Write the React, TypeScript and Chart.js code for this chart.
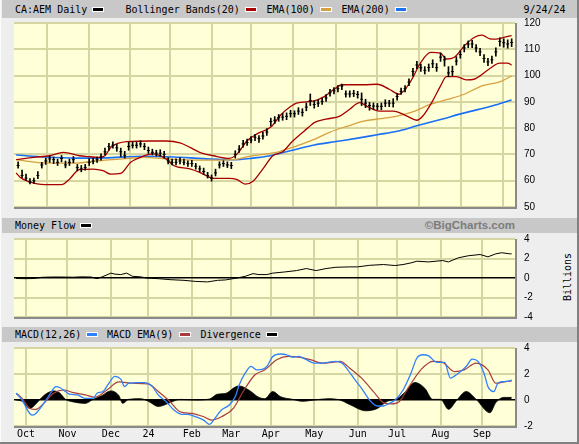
import React, { useEffect, useRef } from "react";
import { Chart, registerables } from "chart.js";
Chart.register(...registerables);

// ---------- categories (trading-session index, 0 = 2 Oct 2023) ----------
const monthTicks = [0, 21, 43, 62, 84, 104, 124, 146, 168, 188, 210, 231];
const monthLabels = ["Oct", "Nov", "Dec", "24", "Feb", "Mar", "Apr", "May", "Jun", "Jul", "Aug", "Sep"];
const mainYTicks = [50, 60, 70, 80, 90, 100, 110, 120];
const flowYTicks = [-4, -2, 0, 2, 4];
const macdYTicks = [-2, 0, 2, 4];

// ---------- price bars ----------
const priceDays = [
  -4, -2, 0, 2, 4, 6, 8, 10, 12, 14,
  16, 18, 20, 22, 24, 26, 28, 30, 32, 34,
  36, 38, 40, 42, 44, 46, 48, 50, 52, 54,
  56, 58, 60, 62, 64, 66, 68, 70, 72, 74,
  76, 78, 80, 82, 84, 86, 88, 90, 92, 94,
  96, 98, 100, 102, 104, 106, 108, 110, 112, 114,
  116, 118, 120, 122, 124, 126, 128, 130, 132, 134,
  136, 138, 140, 142, 144, 146, 148, 150, 152, 154,
  156, 158, 160, 162, 164, 166, 168, 170, 172, 174,
  176, 178, 180, 182, 184, 186, 188, 190, 192, 194,
  196, 198, 200, 202, 204, 206, 208, 210, 212, 214,
  216, 218, 220, 222, 224, 226, 228, 230, 232, 234,
  236, 238, 240, 242, 244, 246,
];
const priceClose = [
  65.8, 62, 61, 59.5, 60, 62, 66, 67.5, 68.3, 68,
  67, 68.5, 66, 67, 68, 65, 64.5, 65, 67, 67.5,
  68, 69, 71, 73, 73.5, 72.5, 71, 69.5, 73, 73.5,
  73.5, 74, 73, 71.5, 70.8, 70.5, 70.5, 70, 67.5, 67,
  67, 67.5, 67, 66.5, 66.5, 65.5, 64.5, 63.5, 62, 61,
  63, 66, 66.5, 66, 65.8, 70, 72, 74, 74.5, 75.5,
  76.5, 76, 77, 78.5, 82.5, 83, 84, 84.2, 84.5, 85.5,
  85.5, 86.5, 86, 88, 90.5, 89, 89.5, 90.2, 91.5, 93.5,
  94.2, 95, 96, 93, 93, 93.2, 92.8, 91, 89.5, 88.6,
  88.4, 88.3, 88.3, 89.5, 89.5, 89.5, 92, 94, 95, 97.5,
  101.5, 104, 103, 102, 103, 104.5, 103, 107, 106, 101,
  101.5, 105.5, 108, 110.5, 112, 112, 110.5, 109, 106.5, 105.2,
  106, 109, 113, 112.5, 112, 112.6,
];
const priceLow = [
  64.8, 61.2, 60, 58.8, 59, 60.8, 64.8, 66.2, 67, 66.5,
  65.8, 67.2, 64.9, 65.8, 66.8, 63.8, 63.4, 64, 65.8, 66.4,
  67, 67.8, 69.8, 71.6, 72.4, 71.2, 69.2, 68.6, 71.6, 72.4,
  72.4, 72.8, 71.8, 70.4, 69.8, 69.4, 69.4, 68.6, 66.4, 66,
  66, 66.4, 66, 65.4, 65.4, 64.4, 63.4, 62.4, 61, 59.8,
  61.8, 64.8, 65.4, 65, 64.6, 68.6, 70.8, 72.8, 73.4, 74.4,
  75.2, 74.6, 75.8, 77.2, 80.8, 81.8, 82.6, 83, 83.2, 84.2,
  84.2, 85.2, 84.6, 86.6, 88.6, 87.6, 88.2, 89, 90.2, 92.2,
  93, 93.8, 94.6, 91.8, 91.8, 92, 91.4, 88.6, 87.8, 86.8,
  87, 87, 87, 88.2, 88.2, 88, 90.6, 92.8, 93.8, 96.2,
  99.8, 102.6, 101.6, 100.6, 101.6, 103, 101.6, 105.4, 103.6, 99.6,
  100, 104, 106.6, 109, 110.6, 110.6, 109, 107.6, 105, 103.8,
  104.6, 107.4, 111.2, 110.8, 110.4, 111,
];
const priceHigh = [
  67.2, 64, 62.5, 60.8, 61, 63.5, 67, 68.6, 69.4, 69,
  68.2, 69.6, 67.5, 68.2, 69.2, 66.2, 65.8, 66.2, 68.4, 68.6,
  69, 70.2, 72.4, 74.2, 74.8, 73.8, 72.4, 71.2, 74.6, 74.8,
  74.6, 75.2, 74.2, 72.8, 72, 71.6, 71.8, 71.2, 68.8, 68.2,
  68.3, 68.8, 68.2, 67.6, 67.8, 66.6, 65.6, 64.8, 63.2, 62.2,
  64.4, 67.2, 67.6, 67.2, 67, 71.4, 73.4, 75.4, 75.8, 76.8,
  77.6, 77.2, 78.4, 79.8, 83.8, 84.4, 85.2, 85.6, 85.8, 86.8,
  86.6, 87.8, 87.4, 89.6, 93, 90.4, 90.8, 91.4, 92.8, 94.8,
  95.4, 96.2, 96.8, 94.2, 94.2, 94.4, 94, 93.4, 91, 89.8,
  89.6, 89.4, 89.6, 90.8, 90.6, 91.2, 93.2, 95.2, 96.2, 98.8,
  102.8, 105.4, 104.4, 103.4, 104.4, 106, 104.6, 108.6, 107.4, 103.4,
  103.6, 107.2, 109.4, 111.8, 113.2, 113.4, 111.8, 110.4, 108, 106.6,
  107.4, 110.6, 114.4, 114, 113.6, 114,
];

// ---------- overlays ----------
const bbUpperDays = [-5, 4, 12, 19, 27, 31, 37, 40, 43, 51, 63, 71, 78, 83, 88, 95, 103, 107, 112, 117, 124, 129, 134, 137, 146, 151, 156, 160, 171, 178, 184, 189, 195, 200, 205, 210, 213, 217, 222, 227, 231, 235, 238, 242, 246];
const bbUpperVals = [68, 68.9, 69.5, 70.8, 69.5, 69.2, 68.9, 69.5, 72.7, 74.9, 75.1, 75.1, 74.4, 72.7, 70.8, 69.5, 68.5, 70.2, 75.2, 77.8, 80.4, 85, 88.2, 89.5, 90.4, 92, 94.8, 96.5, 96.5, 96.7, 94.8, 92.9, 98, 105, 108.8, 108.5, 106.3, 107, 111.3, 114.5, 115.4, 114, 113.9, 114.5, 115.2];
const bbLowerDays = [-5, -3, 4, 12, 18, 22, 27, 34, 39, 43, 48, 53, 58, 64, 71, 75, 83, 88, 95, 103, 107, 111, 115, 120, 125, 130, 135, 143, 146, 152, 159, 164, 169, 173, 179, 186, 193, 198, 201, 206, 210, 213, 218, 223, 227, 230, 235, 240, 244, 246];
const bbLowerVals = [63, 61.3, 59.1, 58.5, 58.5, 60.6, 64.2, 64.4, 63.8, 62.5, 62.8, 67, 68.9, 70.2, 68.3, 65.7, 64.5, 63.2, 60.9, 60.9, 60.4, 58.7, 59.8, 64.5, 69.5, 71, 75, 80.2, 82.1, 83.4, 84.6, 87.2, 89.7, 88.2, 86.5, 86.5, 84.6, 83, 84.6, 90.4, 96.1, 99.6, 99.6, 98.4, 98.6, 99.9, 102.7, 104.7, 104.7, 104];
const ema100Days = [-5, 8, 25, 37, 52, 60, 71, 88, 105, 113, 122, 128, 137, 146, 154, 163, 171, 180, 188, 197, 205, 214, 222, 231, 240, 246];
const ema100Vals = [68, 66.8, 66.7, 67.6, 68.5, 68.9, 68.3, 67.8, 68, 69.3, 70.2, 71, 73.2, 75.7, 78.5, 80.8, 82.7, 83.6, 84.6, 86.5, 89.1, 91, 92.9, 96.1, 97.6, 99.9];
const ema200Days = [-5, 10, 25, 40, 60, 75, 90, 105, 115, 122, 129, 137, 146, 157, 168, 178, 188, 198, 210, 222, 236, 246];
const ema200Vals = [69.8, 69.0, 68.6, 68.7, 69.3, 69.0, 68.4, 68.0, 68.6, 69.3, 70.5, 72.0, 73.6, 74.9, 76.2, 77.5, 78.8, 80.9, 83.3, 85.8, 88.4, 90.7];

// ---------- money flow (billions) ----------
const flowDays = [-5, 0, 4, 8, 13, 18, 24, 28, 33, 36, 39, 43, 45, 48, 51, 54, 58, 61, 67, 73, 80, 86, 92, 97, 101, 107, 111, 115, 118, 122, 125, 131, 137, 142, 147, 152, 157, 164, 168, 174, 181, 187, 191, 195, 198, 204, 211, 214, 219, 224, 230, 234, 238, 241, 245, 246];
const flowVals = [-0.05, -0.07, -0.05, 0.07, 0.1, 0.1, 0.08, 0.12, 0.1, -0.07, 0.15, 0.5, 0.4, 0.35, 0.5, 0.17, 0.12, 0, -0.07, -0.17, -0.24, -0.35, -0.4, -0.24, -0.2, 0, 0.17, 0.45, 0.35, 0.35, 0.5, 0.62, 0.76, 0.97, 0.76, 0.97, 1.1, 1.14, 1.14, 1.3, 1.38, 1.28, 1.38, 1.55, 1.72, 1.65, 1.79, 1.65, 2.07, 2.28, 2.41, 2.17, 2.48, 2.59, 2.48, 2.48];

// ---------- MACD ----------
const macdDays = [-5, -2, 3, 5, 9, 13, 15, 17, 20, 22, 26, 30, 34, 36, 39, 42, 45, 48, 50, 52, 56, 60, 64, 67, 71, 75, 79, 82, 86, 90, 93, 95, 99, 103, 106, 108, 111, 114, 117, 120, 122, 125, 129, 132, 135, 138, 142, 146, 150, 153, 157, 160, 163, 166, 170, 174, 178, 181, 184, 187, 191, 195, 198, 201, 204, 207, 209, 212, 215, 219, 223, 226, 229, 232, 234, 237, 239, 242, 245, 246];
const macdVals = [0.52, 0, -1.16, -1.03, -0.26, 0.65, 1.03, 0.96, 0.65, 0.46, 0.39, 0.13, 0.13, 0.52, 0.65, 1.29, 1.81, 1.6, 1.03, 1.29, 1.34, 1.34, 1.03, 0.39, -0.13, -0.77, -1.11, -1.11, -1.29, -1.55, -1.88, -1.55, -0.77, -0.39, 0.26, 1.16, 2.06, 2.58, 2.32, 2.37, 2.58, 3.35, 3.54, 3.48, 3.3, 3.35, 3.1, 2.84, 2.84, 2.9, 2.97, 2.84, 2.32, 1.68, 0.9, 0, -0.46, -0.46, -0.26, 0, 0.77, 2.06, 3.23, 3.48, 3.4, 2.97, 2.89, 2.89, 1.68, 2.06, 2.58, 3.15, 2.97, 2.06, 1.03, 0.65, 1.29, 1.42, 1.47, 1.55];
const signalDays = [-5, -2, 2, 5, 9, 14, 19, 24, 30, 35, 41, 47, 54, 62, 67, 73, 78, 84, 90, 94, 99, 105, 110, 116, 121, 127, 133, 138, 144, 150, 155, 159, 164, 170, 176, 181, 185, 189, 194, 200, 206, 211, 217, 222, 228, 234, 238, 243, 246];
const signalVals = [0.52, 0.13, -0.65, -0.72, -0.26, 0.52, 0.77, 0.57, 0.39, 0.21, 0.77, 1.39, 1.29, 1.24, 0.65, -0.13, -0.9, -1.03, -1.29, -1.55, -1.29, -0.65, 0.65, 1.94, 2.32, 3.1, 3.35, 3.3, 3.1, 2.84, 2.9, 2.97, 2.45, 1.68, 0.65, -0.2, -0.3, -0.13, 1.03, 2.32, 2.97, 2.9, 2.19, 2.32, 2.84, 2.32, 1.29, 1.42, 1.45];
const divDays = [-5, -2, 2, 5, 8, 11, 14, 17, 20, 24, 30, 34, 38, 43, 47, 49, 52, 58, 62, 67, 73, 78, 86, 93, 97, 101, 106, 108, 113, 118, 121, 125, 129, 135, 140, 146, 153, 159, 164, 172, 178, 183, 188, 192, 197, 202, 206, 210, 214, 218, 223, 228, 235, 238, 242, 246];
const divVals = [0, -0.1, -0.65, -0.3, 0.2, 0.55, 0.7, 0.55, 0.05, -0.15, -0.26, 0.05, 0.3, 0.7, 0.35, -0.26, 0.05, 0.1, -0.1, -0.5, -0.2, 0.05, 0, 0.08, 0.45, 0.5, 1.0, 1.08, 0.75, 0.2, 0.1, 0.65, 0.25, 0.05, -0.1, 0, 0.1, 0, -0.35, -0.83, -0.65, -0.1, 0.1, 0.6, 1.35, 0.9, 0.05, 0.05, -0.72, -0.05, 0.65, 0.05, -0.98, -0.2, 0.2, 0.2];

// ---------- styling ----------
const MONO = "'DejaVu Sans Mono', 'Liberation Mono', monospace";
const SANS = "'Liberation Sans', Arial, sans-serif";
const GRID = "#d6d6a2";
const PLOT_BG = "#ffffd8";
const BAND = "#c8c8c8";
const BG = "#eeeeee";
const C_BB = "#a80000";
const C_E100 = "#d6a040";
const C_E200 = "#1a70f5";
const C_MACD = "#2f80ff";
const C_SIG = "#a83c3c";
const XMIN = -6.08;
const XMAX = 247.7;

const pts = (days: number[], vals: number[]) => days.map((d, i) => ({ x: d, y: vals[i] }));

const plotBg = {
  id: "plotBg",
  beforeDraw(chart: any) {
    const { ctx, chartArea: a } = chart;
    ctx.save();
    ctx.fillStyle = PLOT_BG;
    ctx.fillRect(a.left, a.top, a.right - a.left, a.bottom - a.top);
    ctx.restore();
  },
  afterDraw(chart: any) {
    const { ctx, chartArea: a } = chart;
    ctx.save();
    ctx.strokeStyle = "#8a8a8a";
    ctx.lineWidth = 2;
    ctx.beginPath();
    ctx.moveTo(a.left, a.bottom + 1);
    ctx.lineTo(a.right + 1, a.bottom + 1);
    ctx.lineTo(a.right + 1, a.top);
    ctx.stroke();
    ctx.restore();
  },
};

function xScale(show: boolean) {
  return {
    type: "linear",
    min: XMIN,
    max: XMAX,
    offset: false,
    afterBuildTicks: (s: any) => {
      s.ticks = monthTicks.map((v) => ({ value: v }));
    },
    grid: { color: GRID, lineWidth: 2, drawTicks: false },
    border: { display: false },
    ticks: {
      display: show,
      autoSkip: false,
      maxRotation: 0,
      minRotation: 0,
      padding: 2,
      color: "#000",
      font: { family: MONO, size: 10 },
      callback: (v: any) => {
        const i = monthTicks.indexOf(v);
        return i >= 0 ? monthLabels[i] : "";
      },
    },
    afterFit: (s: any) => {
      s.height = show ? 18 : 0;
    },
  };
}

function yScale(min: number, max: number, ticks: number[], zeroBlack: boolean) {
  return {
    type: "linear",
    position: "right",
    min,
    max,
    afterBuildTicks: (s: any) => {
      s.ticks = ticks.map((v) => ({ value: v }));
    },
    grid: {
      color: (c: any) => (zeroBlack && c.tick && c.tick.value === 0 ? "#000" : GRID),
      lineWidth: (c: any) => (zeroBlack && c.tick && c.tick.value === 0 ? 1.5 : 2),
      drawTicks: false,
    },
    border: { display: false },
    ticks: { padding: 9, color: "#000", font: { family: SANS, size: 10 } },
    afterFit: (s: any) => {
      s.width = 50;
    },
  };
}

function baseOptions(top: number, bottom: number, x: any, y: any) {
  return {
    responsive: false,
    animation: false,
    layout: { padding: { left: 14, right: 14, top, bottom } },
    plugins: { legend: { display: false }, tooltip: { enabled: false } },
    elements: { point: { radius: 0 } },
    scales: { x, y },
  };
}

function mainConfig(): any {
  return {
    type: "line",
    data: {
      datasets: [
        {
          data: pts(priceDays, priceClose),
          showLine: false,
          pointStyle: "line",
          pointRadius: 1.5,
          pointBorderWidth: 1,
          pointBorderColor: "#000",
          borderColor: "#000",
        },
        {
          type: "bar",
          data: priceDays.map((d, i) => ({ x: d, y: [priceLow[i], priceHigh[i]] })),
          backgroundColor: "#000",
          borderWidth: 0,
          barThickness: 1,
          grouped: false,
        },
        { data: pts(bbUpperDays, bbUpperVals), borderColor: C_BB, borderWidth: 1.3, cubicInterpolationMode: "monotone" },
        { data: pts(bbLowerDays, bbLowerVals), borderColor: C_BB, borderWidth: 1.3, cubicInterpolationMode: "monotone" },
        { data: pts(ema100Days, ema100Vals), borderColor: C_E100, borderWidth: 1.3, cubicInterpolationMode: "monotone" },
        { data: pts(ema200Days, ema200Vals), borderColor: C_E200, borderWidth: 1.6, cubicInterpolationMode: "monotone" },
      ],
    },
    options: baseOptions(23, 444 - 207, xScale(false), yScale(50, 120, mainYTicks, false)),
    plugins: [plotBg],
  };
}

function flowConfig(): any {
  return {
    type: "line",
    data: {
      datasets: [{ data: pts(flowDays, flowVals), borderColor: "#000", borderWidth: 1, tension: 0 }],
    },
    options: baseOptions(239, 444 - 317, xScale(false), yScale(-4, 4, flowYTicks, true)),
    plugins: [plotBg],
  };
}

function macdConfig(): any {
  return {
    type: "line",
    data: {
      datasets: [
        { data: pts(macdDays, macdVals), borderColor: C_MACD, borderWidth: 1.3, cubicInterpolationMode: "monotone" },
        { data: pts(signalDays, signalVals), borderColor: C_SIG, borderWidth: 1.2, cubicInterpolationMode: "monotone" },
        {
          data: pts(divDays, divVals),
          borderColor: "#000",
          borderWidth: 0.8,
          backgroundColor: "#000",
          fill: "origin",
          cubicInterpolationMode: "monotone",
        },
      ],
    },
    options: baseOptions(348, 0, xScale(true), yScale(-2, 4, macdYTicks, true)),
    plugins: [plotBg],
  };
}

function Pane({ build }: { build: () => any }) {
  const ref = useRef<HTMLCanvasElement>(null);
  useEffect(() => {
    const chart = new Chart(ref.current as HTMLCanvasElement, build());
    return () => chart.destroy();
  }, []);
  return (
    <canvas
      ref={ref}
      width={579}
      height={444}
      style={{ position: "absolute", left: 0, top: 0, width: 579, height: 444, pointerEvents: "none" }}
    />
  );
}

function Txt({ x, y, children, style }: { x: number; y: number; children: any; style?: any }) {
  return (
    <div
      style={{
        position: "absolute",
        left: x,
        top: y - 6.5,
        height: 13,
        lineHeight: "13px",
        fontFamily: MONO,
        fontSize: 10,
        color: "#000",
        whiteSpace: "nowrap",
        ...style,
      }}
    >
      {children}
    </div>
  );
}

function Swatch({ x, y, color }: { x: number; y: number; color: string }) {
  return (
    <div
      style={{
        position: "absolute",
        left: x,
        top: y - 2.5,
        width: 10,
        height: 3,
        background: color,
        border: "1px solid #ffffff",
      }}
    />
  );
}

export default function App() {
  return (
    <div
      style={{
        position: "fixed",
        left: 0,
        top: 0,
        width: 579,
        height: 444,
        background: BG,
        overflow: "hidden",
      }}
    >
      {/* frame */}
      <div style={{ position: "absolute", left: 0, top: 0, width: 1, height: 444, background: "#fbfbfb" }} />
      <div style={{ position: "absolute", left: 577, top: 0, width: 2, height: 444, background: "#808080" }} />
      <div style={{ position: "absolute", left: 0, top: 442, width: 579, height: 2, background: "#808080" }} />

      {/* header bands */}
      <div style={{ position: "absolute", left: 2, top: 0, width: 575, height: 18, background: BAND }} />
      <div style={{ position: "absolute", left: 2, top: 218, width: 575, height: 15, background: BAND }} />
      <div style={{ position: "absolute", left: 2, top: 327, width: 575, height: 15, background: BAND }} />

      <Txt x={15} y={9.5}>CA:AEM Daily</Txt>
      <Swatch x={91.5} y={9.5} color="#000" />
      <Txt x={125.5} y={9.5}>Bollinger Bands(20)</Txt>
      <Swatch x={244.5} y={9.5} color={C_BB} />
      <Txt x={266.5} y={9.5}>EMA(100)</Txt>
      <Swatch x={319.5} y={9.5} color={C_E100} />
      <Txt x={341.5} y={9.5}>EMA(200)</Txt>
      <Swatch x={394.5} y={9.5} color={C_E200} />
      <Txt x={523.5} y={9.5}>9/24/24</Txt>

      <Txt x={15} y={225.5}>Money Flow</Txt>
      <Swatch x={79.5} y={225.5} color="#000" />
      <Txt
        x={0}
        y={225.5}
        style={{
          left: "auto",
          right: 579 - 515,
          fontFamily: SANS,
          fontWeight: "bold",
          fontSize: 11.5,
          color: "#7c7c7c",
        }}
      >
        ©BigCharts.com
      </Txt>

      <Txt x={15} y={334.5}>MACD(12,26)</Txt>
      <Swatch x={85.5} y={334.5} color={C_MACD} />
      <Txt x={107} y={334.5}>MACD EMA(9)</Txt>
      <Swatch x={178.5} y={334.5} color={C_SIG} />
      <Txt x={200.5} y={334.5}>Divergence</Txt>
      <Swatch x={266} y={334.5} color="#000" />

      <div
        style={{
          position: "absolute",
          left: 567,
          top: 277,
          transform: "translate(-50%, -50%) rotate(-90deg)",
          fontFamily: MONO,
          fontSize: 10,
          color: "#000",
          whiteSpace: "nowrap",
        }}
      >
        Billions
      </div>

      <Pane build={mainConfig} />
      <Pane build={flowConfig} />
      <Pane build={macdConfig} />
    </div>
  );
}
